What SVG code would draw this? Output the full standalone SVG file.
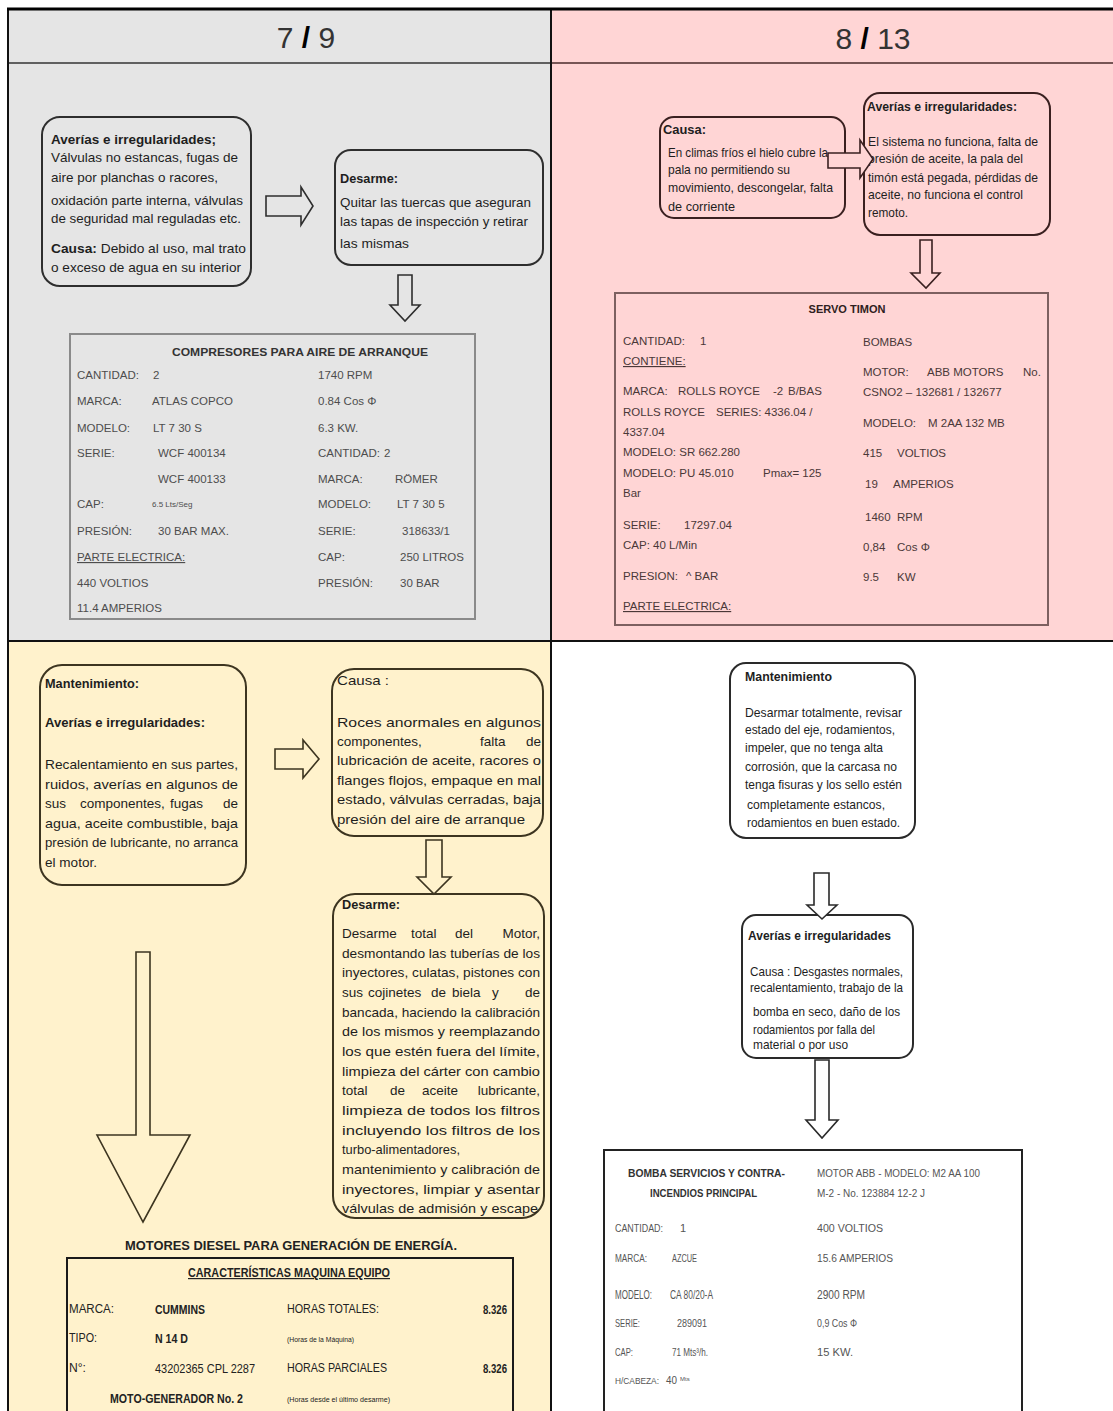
<svg xmlns="http://www.w3.org/2000/svg" width="1113" height="1411" viewBox="0 0 1113 1411">
<style>
text{font-family:"Liberation Sans Narrow","Liberation Sans",Arial,sans-serif;fill:#1e1e1e;font-size:13px}
.b{font-weight:bold}
.u{text-decoration:underline}
.box{stroke-width:2}
.gbox{fill:#E5E5E5;stroke:#2e2e2e}
.pbox{fill:#FFD5D5;stroke:#3a2020}
.ybox{fill:#FFF2CC;stroke:#3d3520}
.wbox{fill:#fff;stroke:#2a2a2a}
.yl text{font-size:13.5px}
.t1 text{font-family:"Liberation Sans",Arial,sans-serif;font-size:11.5px;fill:#4d4d4d}
.t2 text{font-family:"Liberation Sans",Arial,sans-serif;font-size:11.5px;fill:#4a3838}
.t3 text{font-size:12px;fill:#222}
.t4 text{font-size:11px;fill:#555}
.arr{stroke-width:1.6;stroke-linejoin:miter}
.hdr{font-family:"Liberation Sans",Arial,sans-serif;font-size:30px;fill:#333}
</style>

<g id="background">
<rect x="0" y="0" width="1113" height="1411" fill="#fff"/>
<rect x="8" y="9" width="543" height="632" fill="#E5E5E5"/>
<rect x="551" y="9" width="562" height="632" fill="#FFD5D5"/>
<rect x="8" y="641" width="543" height="770" fill="#FFF2CC"/>
<line x1="8" y1="63" x2="551" y2="63" stroke="#333" stroke-width="1.5"/>
<line x1="551" y1="63" x2="1113" y2="63" stroke="#4a2a2a" stroke-width="1.5"/>
<line x1="8" y1="641" x2="1113" y2="641" stroke="#111" stroke-width="2"/>
<line x1="551" y1="9" x2="551" y2="1411" stroke="#111" stroke-width="2"/>
<line x1="8" y1="9" x2="8" y2="1411" stroke="#111" stroke-width="2"/>
<line x1="7" y1="9" x2="1113" y2="9" stroke="#000" stroke-width="3"/>
<text class="hdr" x="306" y="48" text-anchor="middle">7 <tspan font-weight="bold" fill="#000">/</tspan> 9</text>
<text class="hdr" x="873" y="49" text-anchor="middle">8 <tspan font-weight="bold" fill="#000">/</tspan> 13</text>
</g>

<g id="tl-averias">
<rect class="box gbox" x="42" y="117" width="209" height="169" rx="18"/>
<text x="51" y="144" class="b" textLength="165" lengthAdjust="spacingAndGlyphs">Averías e irregularidades;</text>
<text x="51" y="162" textLength="187" lengthAdjust="spacingAndGlyphs">Válvulas no estancas, fugas de</text>
<text x="51" y="182" textLength="167" lengthAdjust="spacingAndGlyphs">aire por planchas o racores,</text>
<text x="51" y="205" textLength="192" lengthAdjust="spacingAndGlyphs">oxidación parte interna, válvulas</text>
<text x="51" y="223" textLength="190" lengthAdjust="spacingAndGlyphs">de seguridad mal reguladas etc.</text>
<text x="51" y="253" textLength="195" lengthAdjust="spacingAndGlyphs"><tspan class="b">Causa:</tspan>  Debido al uso, mal trato</text>
<text x="51" y="272" textLength="190" lengthAdjust="spacingAndGlyphs">o exceso de agua en su interior</text>
</g>

<g id="tl-desarme">
<rect class="box gbox" x="335" y="150" width="208" height="115" rx="16"/>
<text x="340" y="183" class="b" font-size="14" textLength="58" lengthAdjust="spacingAndGlyphs">Desarme:</text>
<text x="340" y="207" font-size="14" textLength="191" lengthAdjust="spacingAndGlyphs">Quitar las tuercas que aseguran</text>
<text x="340" y="226" font-size="14" textLength="188" lengthAdjust="spacingAndGlyphs">las tapas de inspección y retirar</text>
<text x="340" y="248" font-size="14" textLength="69" lengthAdjust="spacingAndGlyphs">las mismas</text>
</g>

<g id="tl-table" class="t1">
<rect x="70" y="334" width="405" height="285" fill="none" stroke="#8a8a8a" stroke-width="2"/>
<text x="300" y="356" text-anchor="middle" class="b" style="font-size:10.5px;fill:#333" textLength="256" lengthAdjust="spacingAndGlyphs">COMPRESORES PARA AIRE DE ARRANQUE</text>
<text x="77" y="379">CANTIDAD:</text><text x="153" y="379">2</text>
<text x="77" y="405">MARCA:</text><text x="152" y="405">ATLAS COPCO</text>
<text x="77" y="432">MODELO:</text><text x="153" y="432">LT 7 30 S</text>
<text x="77" y="457">SERIE:</text><text x="158" y="457">WCF 400134</text>
<text x="158" y="483">WCF 400133</text>
<text x="77" y="508">CAP:</text><text x="152" y="507" style="font-size:8px">6.5 Lts/Seg</text>
<text x="77" y="535">PRESIÓN:</text><text x="158" y="535">30 BAR MAX.</text>
<text x="77" y="561" class="u">PARTE ELECTRICA:</text>
<text x="77" y="587">440  VOLTIOS</text>
<text x="77" y="612">11.4 AMPERIOS</text>
<text x="318" y="379">1740 RPM</text>
<text x="318" y="405">0.84 Cos Φ</text>
<text x="318" y="432">6.3   KW.</text>
<text x="318" y="457">CANTIDAD:</text><text x="384" y="457">2</text>
<text x="318" y="483">MARCA:</text><text x="395" y="483">RÖMER</text>
<text x="318" y="508">MODELO:</text><text x="397" y="508">LT 7 30 5</text>
<text x="318" y="535">SERIE:</text><text x="402" y="535">318633/1</text>
<text x="318" y="561">CAP:</text><text x="400" y="561">250 LITROS</text>
<text x="318" y="587">PRESIÓN:</text><text x="400" y="587">30 BAR</text>
</g>

<g id="tr-causa">
<rect class="box pbox" x="660" y="117" width="185" height="101" rx="14"/>
<text x="663" y="134" class="b" font-size="12" textLength="43" lengthAdjust="spacingAndGlyphs">Causa:</text>
<text x="668" y="157" font-size="12" textLength="160" lengthAdjust="spacingAndGlyphs">En climas fríos el hielo cubre la</text>
<text x="668" y="174" font-size="12" textLength="122" lengthAdjust="spacingAndGlyphs">pala no permitiendo su</text>
<text x="668" y="192" font-size="12" textLength="165" lengthAdjust="spacingAndGlyphs">movimiento, descongelar,  falta</text>
<text x="668" y="211" font-size="12" textLength="67" lengthAdjust="spacingAndGlyphs">de corriente</text>
</g>

<g id="tr-averias">
<rect class="box pbox" x="864" y="93" width="186" height="142" rx="16"/>
<text x="867" y="111" class="b" font-size="12" textLength="150" lengthAdjust="spacingAndGlyphs">Averías e irregularidades:</text>
<text x="868" y="146" font-size="12" textLength="170" lengthAdjust="spacingAndGlyphs">El sistema no funciona, falta de</text>
<text x="868" y="163" font-size="12" textLength="155" lengthAdjust="spacingAndGlyphs">presión de aceite, la pala del</text>
<text x="868" y="182" font-size="12" textLength="170" lengthAdjust="spacingAndGlyphs">timón está pegada, pérdidas de</text>
<text x="868" y="199" font-size="12" textLength="155" lengthAdjust="spacingAndGlyphs">aceite, no funciona el control</text>
<text x="868" y="217" font-size="12" textLength="40" lengthAdjust="spacingAndGlyphs">remoto.</text>
</g>

<g id="tr-table" class="t2">
<rect x="615" y="293" width="433" height="332" fill="none" stroke="#7d6060" stroke-width="2"/>
<text x="847" y="313" text-anchor="middle" class="b" style="font-size:11px;fill:#2e2020">SERVO TIMON</text>
<text x="623" y="345">CANTIDAD:</text><text x="700" y="345">1</text>
<text x="623" y="365" class="u">CONTIENE:</text>
<text x="623" y="395">MARCA:</text><text x="678" y="395">ROLLS ROYCE</text><text x="773" y="395">-2</text><text x="788" y="395">B/BAS</text>
<text x="623" y="416">ROLLS ROYCE</text><text x="716" y="416">SERIES: 4336.04 /</text>
<text x="623" y="436">4337.04</text>
<text x="623" y="456">MODELO: SR 662.280</text>
<text x="623" y="477">MODELO: PU 45.010</text><text x="763" y="477">Pmax= 125</text>
<text x="623" y="497">Bar</text>
<text x="623" y="529">SERIE:</text><text x="684" y="529">17297.04</text>
<text x="623" y="549">CAP: 40 L/Min</text>
<text x="623" y="580">PRESION:</text><text x="686" y="580">^ BAR</text>
<text x="623" y="610" class="u">PARTE ELECTRICA:</text>
<text x="863" y="346">BOMBAS</text>
<text x="863" y="376">MOTOR:</text><text x="927" y="376">ABB MOTORS</text><text x="1023" y="376">No.</text>
<text x="863" y="396">CSNO2 – 132681 / 132677</text>
<text x="863" y="427">MODELO:</text><text x="928" y="427">M 2AA 132 MB</text>
<text x="863" y="457">415</text><text x="897" y="457">VOLTIOS</text>
<text x="865" y="488">19</text><text x="893" y="488">AMPERIOS</text>
<text x="865" y="521">1460</text><text x="897" y="521">RPM</text>
<text x="863" y="551">0,84</text><text x="897" y="551">Cos Φ</text>
<text x="863" y="581">9.5</text><text x="897" y="581">KW</text>
</g>

<g id="bl-mantenimiento" class="yl">
<rect class="box ybox" x="40" y="665" width="206" height="220" rx="22"/>
<text x="45" y="688" class="b" textLength="94" lengthAdjust="spacingAndGlyphs">Mantenimiento:</text>
<text x="45" y="727" class="b" textLength="160" lengthAdjust="spacingAndGlyphs">Averías e irregularidades:</text>
<text x="45" y="769" textLength="193" lengthAdjust="spacingAndGlyphs">Recalentamiento en sus partes,</text>
<text x="45" y="789" textLength="193" lengthAdjust="spacingAndGlyphs">ruidos, averías en algunos de</text>
<text x="45" y="808">sus</text><text x="80" y="808">componentes,</text><text x="170" y="808">fugas</text><text x="238" y="808" text-anchor="end">de</text>
<text x="45" y="828" textLength="193" lengthAdjust="spacingAndGlyphs">agua, aceite combustible, baja</text>
<text x="45" y="847" textLength="193" lengthAdjust="spacingAndGlyphs">presión de lubricante, no arranca</text>
<text x="45" y="867" textLength="52" lengthAdjust="spacingAndGlyphs">el motor.</text>
</g>

<g id="bl-causa" class="yl">
<rect class="box ybox" x="332" y="669" width="211" height="167" rx="22"/>
<text x="337" y="685" textLength="52" lengthAdjust="spacingAndGlyphs">Causa :</text>
<text x="337" y="727" textLength="204" lengthAdjust="spacingAndGlyphs">Roces anormales en algunos</text>
<text x="337" y="746">componentes,</text><text x="480" y="746">falta</text><text x="541" y="746" text-anchor="end">de</text>
<text x="337" y="765" textLength="204" lengthAdjust="spacingAndGlyphs">lubricación de aceite, racores o</text>
<text x="337" y="785" textLength="204" lengthAdjust="spacingAndGlyphs">flanges flojos, empaque en mal</text>
<text x="337" y="804" textLength="204" lengthAdjust="spacingAndGlyphs">estado, válvulas cerradas, baja</text>
<text x="337" y="824" textLength="188" lengthAdjust="spacingAndGlyphs">presión del aire de arranque</text>
</g>

<g id="bl-desarme" class="yl">
<rect class="box ybox" x="333" y="894" width="211" height="324" rx="22"/>
<text x="342" y="909" class="b" textLength="58" lengthAdjust="spacingAndGlyphs">Desarme:</text>
<text x="342" y="938">Desarme</text><text x="411" y="938">total</text><text x="455" y="938">del</text><text x="540" y="938" text-anchor="end">Motor,</text>
<text x="342" y="958" textLength="198" lengthAdjust="spacingAndGlyphs">desmontando las tuberías de los</text>
<text x="342" y="977" textLength="198" lengthAdjust="spacingAndGlyphs">inyectores, culatas, pistones con</text>
<text x="342" y="997">sus</text><text x="368" y="997">cojinetes</text><text x="431" y="997">de</text><text x="452" y="997">biela</text><text x="492" y="997">y</text><text x="540" y="997" text-anchor="end">de</text>
<text x="342" y="1017" textLength="198" lengthAdjust="spacingAndGlyphs">bancada, haciendo la calibración</text>
<text x="342" y="1036" textLength="198" lengthAdjust="spacingAndGlyphs">de los mismos y reemplazando</text>
<text x="342" y="1056" textLength="198" lengthAdjust="spacingAndGlyphs">los que estén fuera del límite,</text>
<text x="342" y="1076" textLength="198" lengthAdjust="spacingAndGlyphs">limpieza del cárter con cambio</text>
<text x="342" y="1095">total</text><text x="390" y="1095">de</text><text x="422" y="1095">aceite</text><text x="540" y="1095" text-anchor="end">lubricante,</text>
<text x="342" y="1115" textLength="198" lengthAdjust="spacingAndGlyphs">limpieza de todos los filtros</text>
<text x="342" y="1135" textLength="198" lengthAdjust="spacingAndGlyphs">incluyendo los filtros de los</text>
<text x="342" y="1154" textLength="118" lengthAdjust="spacingAndGlyphs">turbo-alimentadores,</text>
<text x="342" y="1174" textLength="198" lengthAdjust="spacingAndGlyphs">mantenimiento y calibración de</text>
<text x="342" y="1194" textLength="198" lengthAdjust="spacingAndGlyphs">inyectores, limpiar y asentar</text>
<text x="342" y="1213" textLength="196" lengthAdjust="spacingAndGlyphs">válvulas de admisión y escape</text>
</g>

<g id="bl-table" class="t3">
<text x="291" y="1250" text-anchor="middle" class="b" style="font-size:13px" textLength="332" lengthAdjust="spacingAndGlyphs">MOTORES DIESEL  PARA GENERACIÓN DE ENERGÍA.</text>
<rect x="67" y="1258" width="446" height="170" fill="none" stroke="#1a1a1a" stroke-width="2"/>
<text x="289" y="1277" text-anchor="middle" class="b u" textLength="202" lengthAdjust="spacingAndGlyphs">CARACTERÍSTICAS MAQUINA EQUIPO</text>
<text x="69" y="1313" textLength="45" lengthAdjust="spacingAndGlyphs">MARCA:</text>
<text x="155" y="1314" class="b" textLength="50" lengthAdjust="spacingAndGlyphs">CUMMINS</text>
<text x="287" y="1313" textLength="92" lengthAdjust="spacingAndGlyphs">HORAS TOTALES:</text>
<text x="483" y="1314" class="b" textLength="24" lengthAdjust="spacingAndGlyphs">8.326</text>
<text x="69" y="1342" textLength="28" lengthAdjust="spacingAndGlyphs">TIPO:</text>
<text x="155" y="1343" class="b" textLength="33" lengthAdjust="spacingAndGlyphs">N 14 D</text>
<text x="287" y="1342" style="font-size:6.5px" textLength="67" lengthAdjust="spacingAndGlyphs">(Horas de la Máquina)</text>
<text x="69" y="1372" textLength="17" lengthAdjust="spacingAndGlyphs">N°:</text>
<text x="155" y="1373" textLength="100" lengthAdjust="spacingAndGlyphs">43202365   CPL  2287</text>
<text x="287" y="1372" textLength="100" lengthAdjust="spacingAndGlyphs">HORAS PARCIALES</text>
<text x="483" y="1373" class="b" textLength="24" lengthAdjust="spacingAndGlyphs">8.326</text>
<text x="110" y="1403" class="b" textLength="133" lengthAdjust="spacingAndGlyphs">MOTO-GENERADOR No. 2</text>
<text x="287" y="1402" style="font-size:6.5px" textLength="103" lengthAdjust="spacingAndGlyphs">(Horas desde el último desarme)</text>
</g>

<g id="br-mantenimiento">
<rect class="box wbox" x="730" y="663" width="185" height="175" rx="16"/>
<text x="745" y="681" class="b" font-size="11.5" textLength="87" lengthAdjust="spacingAndGlyphs">Mantenimiento</text>
<text x="745" y="717" font-size="11.5" textLength="157" lengthAdjust="spacingAndGlyphs">Desarmar totalmente, revisar</text>
<text x="745" y="734" font-size="11.5" textLength="150" lengthAdjust="spacingAndGlyphs">estado del eje, rodamientos,</text>
<text x="745" y="752" font-size="11.5" textLength="138" lengthAdjust="spacingAndGlyphs">impeler, que no tenga alta</text>
<text x="745" y="771" font-size="11.5" textLength="152" lengthAdjust="spacingAndGlyphs">corrosión, que la carcasa no</text>
<text x="745" y="789" font-size="11.5" textLength="157" lengthAdjust="spacingAndGlyphs">tenga fisuras y los sello estén</text>
<text x="747" y="809" font-size="11.5" textLength="138" lengthAdjust="spacingAndGlyphs">completamente estancos,</text>
<text x="747" y="827" font-size="11.5" textLength="153" lengthAdjust="spacingAndGlyphs">rodamientos en buen estado.</text>
</g>

<g id="br-averias">
<rect class="box wbox" x="742" y="915" width="171" height="143" rx="14"/>
<text x="748" y="940" class="b" font-size="11.5" textLength="143" lengthAdjust="spacingAndGlyphs">Averías e irregularidades</text>
<text x="750" y="976" font-size="11.5" textLength="153" lengthAdjust="spacingAndGlyphs">Causa : Desgastes normales,</text>
<text x="750" y="992" font-size="11.5" textLength="153" lengthAdjust="spacingAndGlyphs">recalentamiento, trabajo de la</text>
<text x="753" y="1016" font-size="11" textLength="147" lengthAdjust="spacingAndGlyphs">bomba en seco, daño de los</text>
<text x="753" y="1034" font-size="11" textLength="122" lengthAdjust="spacingAndGlyphs">rodamientos por falla del</text>
<text x="753" y="1049" font-size="11" textLength="95" lengthAdjust="spacingAndGlyphs">material o por uso</text>
</g>

<g id="br-table" class="t4">
<rect x="604" y="1150" width="418" height="275" fill="none" stroke="#222" stroke-width="2"/>
<text x="628" y="1177" class="b" style="font-size:10.5px;fill:#333" textLength="157" lengthAdjust="spacingAndGlyphs">BOMBA SERVICIOS Y CONTRA-</text>
<text x="650" y="1197" class="b" style="font-size:10.5px;fill:#333" textLength="107" lengthAdjust="spacingAndGlyphs">INCENDIOS PRINCIPAL</text>
<text x="817" y="1177" textLength="163" lengthAdjust="spacingAndGlyphs">MOTOR ABB - MODELO: M2 AA 100</text>
<text x="817" y="1197" textLength="108" lengthAdjust="spacingAndGlyphs">M-2 - No. 123884 12-2 J</text>
<text x="615" y="1232" textLength="48" lengthAdjust="spacingAndGlyphs">CANTIDAD:</text><text x="680" y="1232">1</text>
<text x="615" y="1262" textLength="32" lengthAdjust="spacingAndGlyphs">MARCA:</text><text x="672" y="1262" textLength="25" lengthAdjust="spacingAndGlyphs">AZCUE</text>
<text x="615" y="1299" style="font-size:12px" textLength="37" lengthAdjust="spacingAndGlyphs">MODELO:</text><text x="670" y="1299" style="font-size:12px" textLength="43" lengthAdjust="spacingAndGlyphs">CA 80/20-A</text>
<text x="615" y="1327" textLength="25" lengthAdjust="spacingAndGlyphs">SERIE:</text><text x="677" y="1327" textLength="30" lengthAdjust="spacingAndGlyphs">289091</text>
<text x="615" y="1356" textLength="18" lengthAdjust="spacingAndGlyphs">CAP:</text><text x="672" y="1356" textLength="36" lengthAdjust="spacingAndGlyphs">71 Mts³/h.</text>
<text x="615" y="1384" style="font-size:9px" textLength="44" lengthAdjust="spacingAndGlyphs">H/CABEZA:</text><text x="666" y="1384" textLength="11" lengthAdjust="spacingAndGlyphs">40</text><text x="680" y="1381" style="font-size:6px">Mts</text>
<text x="817" y="1232" textLength="66" lengthAdjust="spacingAndGlyphs">400 VOLTIOS</text>
<text x="817" y="1262" textLength="76" lengthAdjust="spacingAndGlyphs">15.6 AMPERIOS</text>
<text x="817" y="1299" style="font-size:12px" textLength="48" lengthAdjust="spacingAndGlyphs">2900 RPM</text>
<text x="817" y="1327" textLength="40" lengthAdjust="spacingAndGlyphs">0,9 Cos Φ</text>
<text x="817" y="1356" textLength="36" lengthAdjust="spacingAndGlyphs">15   KW.</text>
</g>

<g id="connectors">
<path class="arr" d="M266,196 H301 V187 L313,206 L301,225 V216 H266 Z" fill="#E5E5E5" stroke="#2e2e2e"/>
<path class="arr" d="M398,275 H412 V305 H420 L405,321 L390,305 H398 Z" fill="#E5E5E5" stroke="#2e2e2e"/>
<path class="arr" d="M828,153 H860 V140 L873,159 L860,178 V168 H828 Z" fill="#FFD5D5" stroke="#3a2020"/>
<path class="arr" d="M920,240 H932 V273 H940 L926,288 L911,273 H920 Z" fill="#FFD5D5" stroke="#3a2020"/>
<path class="arr" d="M275,749 H303 V740 L319,759 L303,778 V769 H275 Z" fill="#FFF2CC" stroke="#3d3520"/>
<path class="arr" d="M426,840 H442 V877 H451 L434,894 L417,877 H426 Z" fill="#FFF2CC" stroke="#3d3520"/>
<path class="arr" d="M136,952 H150 V1135 H190 L143,1222 L97,1135 H136 Z" fill="#FFF2CC" stroke="#3d3520"/>
<path class="arr" d="M814,873 H829 V905 H837 L822,919 L807,905 H814 Z" fill="#fff" stroke="#2a2a2a"/>
<path class="arr" d="M815,1060 H829 V1120 H838 L822,1138 L806,1120 H815 Z" fill="#fff" stroke="#2a2a2a"/>
</g>
</svg>
